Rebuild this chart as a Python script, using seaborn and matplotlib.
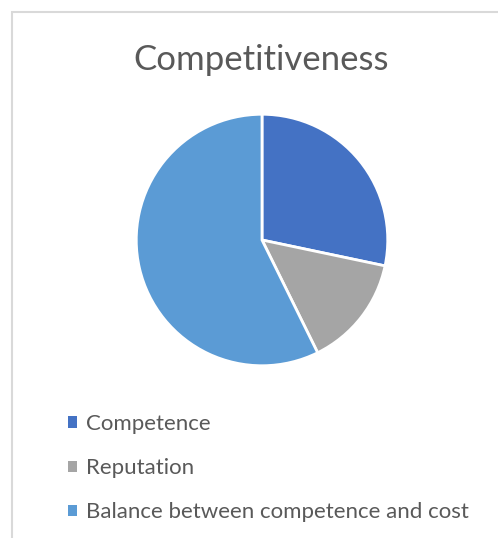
import matplotlib
matplotlib.use("Agg")
import matplotlib.pyplot as plt
import matplotlib.patches as mpatches
import seaborn as sns

# data
labels = ["Competence", "Reputation", "Balance between competence and cost"]
shares = [28.3, 14.4, 57.3]
colors = ["#4472C4", "#A5A5A5", "#5B9BD5"]

sns.set_theme(style="white")
plt.rcParams['font.family'] = ['Lato', 'DejaVu Sans']

W, H = 498, 538
fig = plt.figure(figsize=(W / 100, H / 100), dpi=100)

# chart border (runs off the right/bottom edge)
border = mpatches.Rectangle((12 / W, -0.05), 1.2, 1 - 12 / H + 0.05,
                            transform=fig.transFigure, fill=False,
                            edgecolor="#D9D9D9", linewidth=1.5)
fig.patches.append(border)

cx, cy, r = 262, 240, 127
ax = fig.add_axes([(cx - r) / W, (H - cy - r) / H, 2 * r / W, 2 * r / H])
wedges, _ = ax.pie(shares, colors=colors, startangle=90, counterclock=False,
                   wedgeprops=dict(edgecolor="white", linewidth=2))
ax.set_xlim(-1.01, 1.01)
ax.set_ylim(-1.01, 1.01)
ax.axis("off")

fig.text(261 / W, 1 - 60 / H, "Competitiveness", ha="center", va="center",
         fontsize=25, color="#595959")

handles = [mpatches.Patch(facecolor=c, edgecolor="none") for c in colors]
fig.legend(handles, labels, loc="upper left",
           bbox_to_anchor=(48 / W, 1 - 394 / H), frameon=False,
           fontsize=16, labelcolor="#595959", handlelength=0.42,
           handleheight=0.42, handletextpad=0.38, labelspacing=1.09)

fig.savefig("out.png", dpi=100, facecolor="white")
